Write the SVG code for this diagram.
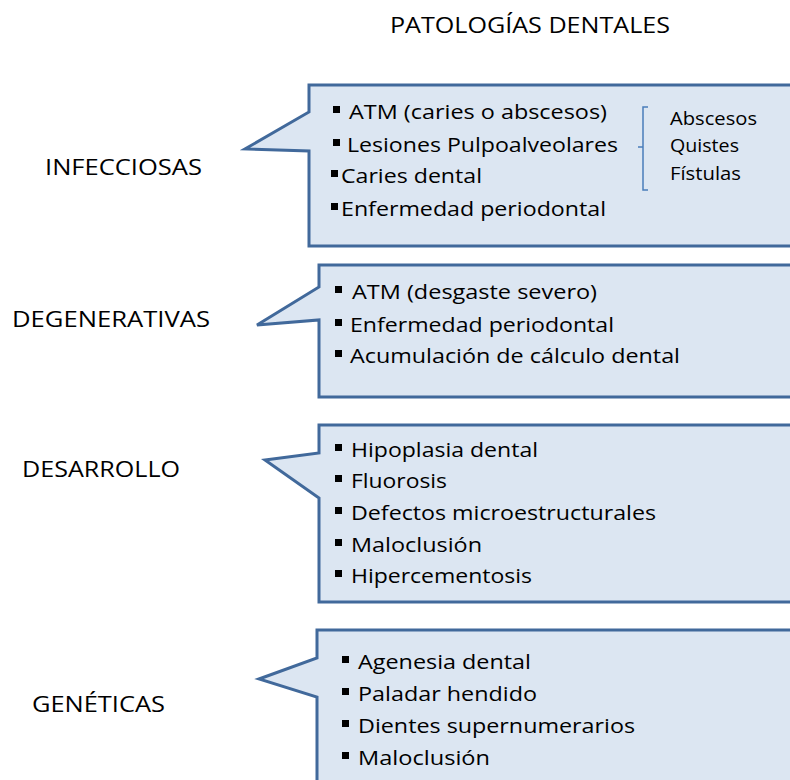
<svg xmlns="http://www.w3.org/2000/svg" width="790" height="780" viewBox="0 0 790 780">
<style>
  .t { font-family: "Open Sans", "Liberation Sans", sans-serif; fill: #000; }
  .h { font-size: 22px; }
  .b { font-size: 20px; }
  .s { font-size: 18px; }
  .box { fill: #dce6f2; stroke: #41699b; stroke-width: 3; stroke-linejoin: miter; }
  .bul { fill: #000; }
  .brace { fill: none; stroke: #4a7ebb; stroke-width: 1.5; }
</style>
<rect width="790" height="780" fill="#fff"/>
<text id="title" class="t h" x="390" y="33" textLength="280" lengthAdjust="spacingAndGlyphs">PATOLOGÍAS DENTALES</text>

<g id="infecciosas">
  <text class="t h" x="45" y="175" textLength="157" lengthAdjust="spacingAndGlyphs">INFECCIOSAS</text>
  <path class="box" d="M309,85 L800,85 L800,246 L309,246 L309,151 L245,149 L309,112 Z"/>
  <rect class="bul" x="333" y="106" width="7" height="7"/>
  <text class="t b" x="349" y="119" textLength="258" lengthAdjust="spacingAndGlyphs">ATM (caries o abscesos)</text>
  <rect class="bul" x="333" y="139" width="7" height="7"/>
  <text class="t b" x="347" y="152" textLength="271" lengthAdjust="spacingAndGlyphs">Lesiones Pulpoalveolares</text>
  <rect class="bul" x="331" y="170" width="7" height="7"/>
  <text class="t b" x="341" y="183" textLength="141" lengthAdjust="spacingAndGlyphs">Caries dental</text>
  <rect class="bul" x="331" y="203" width="7" height="7"/>
  <text class="t b" x="341" y="216" textLength="265" lengthAdjust="spacingAndGlyphs">Enfermedad periodontal</text>
  <path class="brace" d="M648,107 L643,107 L643,190 L648,190 M643,147 L638,147"/>
  <text class="t s" x="670" y="125" textLength="87" lengthAdjust="spacingAndGlyphs">Abscesos</text>
  <text class="t s" x="670" y="152" textLength="69" lengthAdjust="spacingAndGlyphs">Quistes</text>
  <text class="t s" x="670" y="180" textLength="71" lengthAdjust="spacingAndGlyphs">Fístulas</text>
</g>

<g id="degenerativas">
  <text class="t h" x="12" y="327" textLength="198" lengthAdjust="spacingAndGlyphs">DEGENERATIVAS</text>
  <path class="box" d="M319,265 L800,265 L800,397 L319,397 L319,320 L257,325 L319,287 Z"/>
  <rect class="bul" x="335" y="286" width="7" height="7"/>
  <text class="t b" x="352" y="299" textLength="245" lengthAdjust="spacingAndGlyphs">ATM (desgaste severo)</text>
  <rect class="bul" x="335" y="319" width="7" height="7"/>
  <text class="t b" x="350" y="332" textLength="264" lengthAdjust="spacingAndGlyphs">Enfermedad periodontal</text>
  <rect class="bul" x="335" y="350" width="7" height="7"/>
  <text class="t b" x="350" y="363" textLength="330" lengthAdjust="spacingAndGlyphs">Acumulación de cálculo dental</text>
</g>

<g id="desarrollo">
  <text class="t h" x="22" y="477" textLength="158" lengthAdjust="spacingAndGlyphs">DESARROLLO</text>
  <path class="box" d="M319,425 L800,425 L800,602 L319,602 L319,498 L265,460 L319,453 Z"/>
  <rect class="bul" x="335" y="444" width="7" height="7"/>
  <text class="t b" x="351" y="457" textLength="187" lengthAdjust="spacingAndGlyphs">Hipoplasia dental</text>
  <rect class="bul" x="335" y="475" width="7" height="7"/>
  <text class="t b" x="351" y="488" textLength="96" lengthAdjust="spacingAndGlyphs">Fluorosis</text>
  <rect class="bul" x="335" y="507" width="7" height="7"/>
  <text class="t b" x="351" y="520" textLength="305" lengthAdjust="spacingAndGlyphs">Defectos microestructurales</text>
  <rect class="bul" x="335" y="539" width="7" height="7"/>
  <text class="t b" x="351" y="552" textLength="131" lengthAdjust="spacingAndGlyphs">Maloclusión</text>
  <rect class="bul" x="335" y="570" width="7" height="7"/>
  <text class="t b" x="351" y="583" textLength="181" lengthAdjust="spacingAndGlyphs">Hipercementosis</text>
</g>

<g id="geneticas">
  <text class="t h" x="32" y="712" textLength="133" lengthAdjust="spacingAndGlyphs">GENÉTICAS</text>
  <path class="box" d="M317,630 L800,630 L800,800 L317,800 L317,697 L259,679 L317,658 Z"/>
  <rect class="bul" x="342" y="656" width="7" height="7"/>
  <text class="t b" x="358" y="669" textLength="173" lengthAdjust="spacingAndGlyphs">Agenesia dental</text>
  <rect class="bul" x="342" y="688" width="7" height="7"/>
  <text class="t b" x="358" y="701" textLength="179" lengthAdjust="spacingAndGlyphs">Paladar hendido</text>
  <rect class="bul" x="342" y="720" width="7" height="7"/>
  <text class="t b" x="358" y="733" textLength="277" lengthAdjust="spacingAndGlyphs">Dientes supernumerarios</text>
  <rect class="bul" x="342" y="752" width="7" height="7"/>
  <text class="t b" x="358" y="765" textLength="132" lengthAdjust="spacingAndGlyphs">Maloclusión</text>
</g>

<g id="connectors"></g>
</svg>
